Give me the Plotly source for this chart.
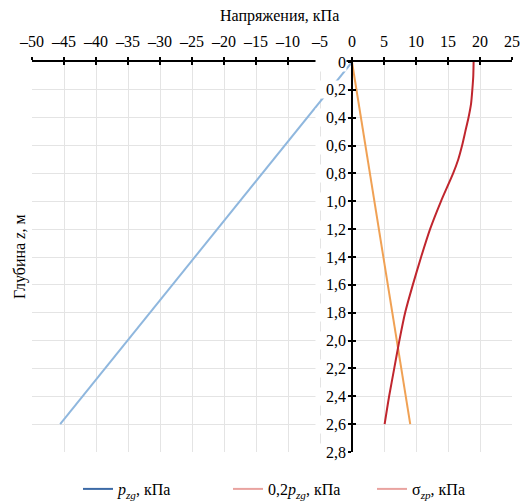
import plotly.graph_objects as go

# ---- data ----
z_pzg = [0.0, 2.6]
pzg = [0.0, -45.6]

z_02pzg = [0.0, 2.6]
pzg02 = [0.0, 9.1]

z_sigma = [0.0, 0.1, 0.2, 0.3, 0.4, 0.5, 0.6, 0.7, 0.8, 1.0, 1.2, 1.4, 1.6, 1.8, 2.0, 2.2, 2.4, 2.6]
sigma = [19.0, 18.95, 18.8, 18.6, 18.2, 17.7, 17.2, 16.6, 15.8, 13.9, 12.2, 10.8, 9.5, 8.3, 7.4, 6.6, 5.8, 5.1]

x_ticks = [-50, -45, -40, -35, -30, -25, -20, -15, -10, -5, 0, 5, 10, 15, 20, 25]
x_tick_labels = ["–50", "–45", "–40", "–35", "–30", "–25", "–20", "–15", "–10", "–5",
                 "0", "5", "10", "15", "20", "25"]
y_ticks = [0, 0.2, 0.4, 0.6, 0.8, 1.0, 1.2, 1.4, 1.6, 1.8, 2.0, 2.2, 2.4, 2.6, 2.8]
y_tick_labels = ["0", "0,2", "0,4", "0,6", "0,8", "1,0", "1,2", "1,4", "1,6", "1,8",
                 "2,0", "2,2", "2,4", "2,6", "2,8"]

legend_names = ["<i>p</i><sub><i>zg</i></sub>, кПа",
                "0,2<i>p</i><sub><i>zg</i></sub>, кПа",
                "σ<sub><i>zp</i></sub>, кПа"]
legend_colors = ["#3c6aa6", "#e9a3a0", "#e9a3a0"]
line_colors = ["#8fb7de", "#f0a154", "#c0262e"]

x_title = "Напряжения, кПа"
y_title = "Глубина <i>z</i>, м"

FONT = "Liberation Serif, Times New Roman, serif"
W, H = 524, 501
L, R, T, B = 32, 12, 62, 49
xmin, xmax = -50, 25
ymin, ymax = 0, 2.8
pw = W - L - R
ph = H - T - B

fig = go.Figure()

for xs, zs, c in [(pzg, z_pzg, line_colors[0]), (pzg02, z_02pzg, line_colors[1]), (sigma, z_sigma, line_colors[2])]:
    fig.add_trace(go.Scatter(x=xs, y=zs, mode="lines", line=dict(color=c, width=2, shape="spline", smoothing=0.6),
                             showlegend=False, hoverinfo="skip"))

legend_ids = ["legend", "legend2", "legend3"]
legend_left_px = [78, 228, 372]
for name, c, lid in zip(legend_names, legend_colors, legend_ids):
    fig.add_trace(go.Scatter(x=[None], y=[None], mode="lines", name=name, legend=lid,
                             line=dict(color=c, width=2)))

ypos = (0 - xmin) / (xmax - xmin)
leg_y = -(489 - (T + ph)) / ph

def leg(px):
    return dict(orientation="h", x=(px - L) / pw, xanchor="left", y=leg_y, yanchor="middle",
                font=dict(size=16, family=FONT), bgcolor="rgba(0,0,0,0)", itemwidth=30)

fig.update_layout(
    width=W, height=H,
    margin=dict(l=L, r=R, t=T, b=B, autoexpand=False),
    paper_bgcolor="white", plot_bgcolor="white",
    font=dict(family=FONT, size=16, color="black"),
    xaxis=dict(range=[xmin, xmax], side="top", tickvals=x_ticks, ticktext=x_tick_labels,
               showgrid=True, gridcolor="#e4e4e4", gridwidth=1, zeroline=False,
               showline=True, linecolor="black", linewidth=2,
               ticks="outside", ticklen=3, tickwidth=2, tickcolor="black",
               ticklabelstandoff=4, tickfont=dict(size=16, family=FONT), automargin=False),
    xaxis2=dict(range=[xmin, xmax], overlaying="x", side="top", tickvals=x_ticks,
                showticklabels=False, showgrid=False, zeroline=False, showline=False,
                ticks="inside", ticklen=3, tickwidth=2, tickcolor="black"),
    yaxis=dict(range=[ymax, ymin], tickvals=y_ticks, showticklabels=False,
               showgrid=True, gridcolor="#e4e4e4", gridwidth=1, zeroline=False,
               anchor="free", position=ypos,
               showline=True, linecolor="black", linewidth=2,
               ticks="outside", ticklen=3, tickwidth=2, tickcolor="black", automargin=False),
    yaxis2=dict(range=[ymax, ymin], overlaying="y", tickvals=y_ticks, showticklabels=False,
                showgrid=False, zeroline=False, anchor="free", position=ypos, showline=False,
                ticks="inside", ticklen=3, tickwidth=2, tickcolor="black"),
    legend=leg(legend_left_px[0]),
    legend2=leg(legend_left_px[1]),
    legend3=leg(legend_left_px[2]),
    showlegend=True,
)

fig.add_trace(go.Scatter(x=[xmin], y=[ymin], xaxis="x2", yaxis="y2", mode="markers",
                         marker=dict(opacity=0), showlegend=False, hoverinfo="skip"))

for v, t in zip(y_ticks, y_tick_labels):
    fig.add_annotation(x=0, y=v, xref="x", yref="y", text=t, showarrow=False,
                       xanchor="right", yanchor="middle", xshift=-5, width=30, align="right",
                       bgcolor="white", borderpad=0, font=dict(size=16, family=FONT))

fig.add_annotation(x=(279 - L) / pw, y=1 + (T - 16) / ph, xref="paper", yref="paper",
                   text=x_title, showarrow=False, xanchor="center", yanchor="middle",
                   font=dict(size=16, family=FONT))
fig.add_annotation(x=-(L - 20) / pw, y=0.5, xref="paper", yref="paper",
                   text=y_title, showarrow=False, textangle=-90, xanchor="center", yanchor="middle",
                   font=dict(size=16, family=FONT))

fig.write_html("out.html")
